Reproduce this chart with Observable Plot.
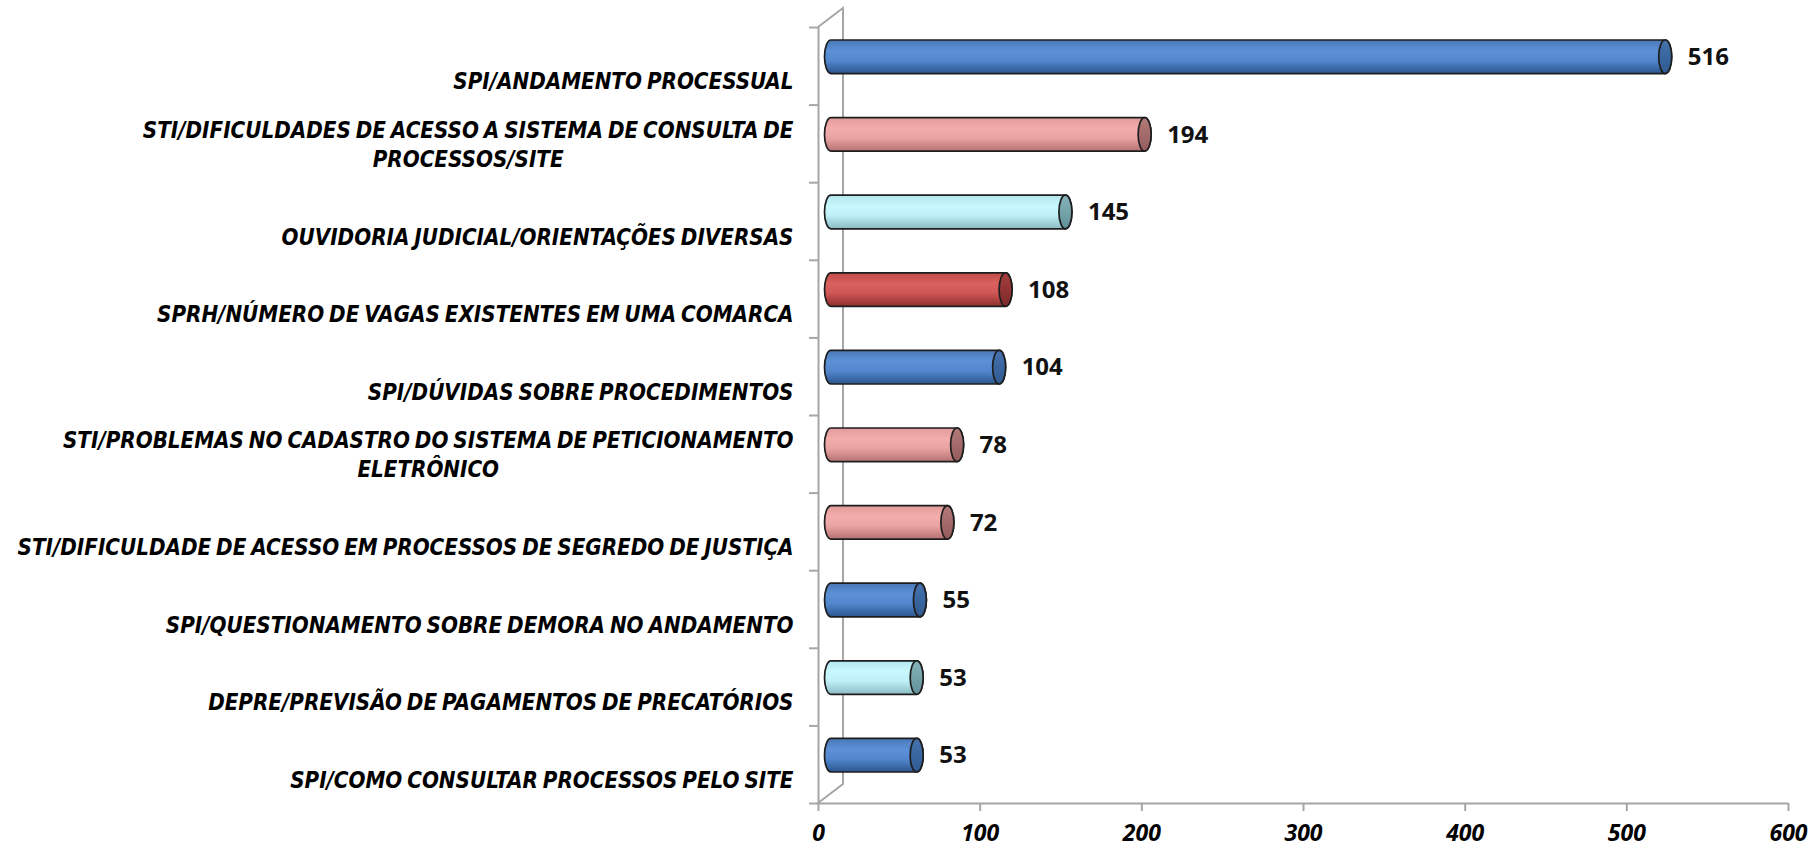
<!DOCTYPE html>
<html><head><meta charset="utf-8">
<script src="https://cdn.jsdelivr.net/npm/d3@7"></script>
<script src="https://cdn.jsdelivr.net/npm/@observablehq/plot@0.6"></script>
<style>body{margin:0;background:#fff}</style>
</head><body><div id="chart"></div>
<script>
// ---- data ----
const categories = [
  "SPI/ANDAMENTO PROCESSUAL",
  "STI/DIFICULDADES DE ACESSO A SISTEMA DE CONSULTA DE\nPROCESSOS/SITE",
  "OUVIDORIA JUDICIAL/ORIENTAÇÕES DIVERSAS",
  "SPRH/NÚMERO DE VAGAS EXISTENTES EM UMA COMARCA",
  "SPI/DÚVIDAS SOBRE PROCEDIMENTOS",
  "STI/PROBLEMAS NO CADASTRO DO SISTEMA DE PETICIONAMENTO\nELETRÔNICO",
  "STI/DIFICULDADE DE ACESSO EM PROCESSOS DE SEGREDO DE JUSTIÇA",
  "SPI/QUESTIONAMENTO SOBRE DEMORA NO ANDAMENTO",
  "DEPRE/PREVISÃO DE PAGAMENTOS DE PRECATÓRIOS",
  "SPI/COMO CONSULTAR PROCESSOS PELO SITE"
];
const values = [516, 194, 145, 108, 104, 78, 72, 55, 53, 53];
const groups = ["blue", "pink", "cyan", "red", "blue", "pink", "pink", "blue", "cyan", "blue"];
const xTicks = [0, 100, 200, 300, 400, 500, 600];

const data = categories.map((c, i) => ({cat: c, value: values[i], group: groups[i], i}));

// ---- styles ----
const GRAY = "#a6a6a6";
const DX = 25, DY = -19;          // 3D depth of the back wall
const BAR_DX = 13, BAR_DY = -9;   // bars sit half-way in depth
const LABEL_FONT = "'DejaVu Sans Condensed', 'DejaVu Sans', sans-serif";
const NUM_FONT = "'Open Sans', 'Liberation Sans', sans-serif";
const palette = {
  blue: {body: ["#4a78b8", "#5c91d7", "#5388cf", "#2c568e"], cap: ["#4572ad", "#2f5a92"]},
  pink: {body: ["#e29a9a", "#f4adad", "#eaa3a3", "#b57272"], cap: ["#b37a7a", "#945c5c"]},
  cyan: {body: ["#b2e7ee", "#c9f8fe", "#bff0f7", "#8bbcc3"], cap: ["#86b4ba", "#62929a"]},
  red:  {body: ["#c04a48", "#d9615f", "#cf5755", "#8d2f2e"], cap: ["#a53e3d", "#7e2a2a"]}
};

const ns = "http://www.w3.org/2000/svg";
function cylinders(index, scales, vals, dimensions, context, next) {
  const g = next(index, scales, vals, dimensions, context);
  const defs = document.createElementNS(ns, "defs");
  for (const [k, p] of Object.entries(palette)) {
    const lg = document.createElementNS(ns, "linearGradient");
    lg.setAttribute("id", "body-" + k);
    lg.setAttribute("x1", 0); lg.setAttribute("y1", 0); lg.setAttribute("x2", 0); lg.setAttribute("y2", 1);
    [0, 0.32, 0.6, 1].forEach((o, j) => {
      const s = document.createElementNS(ns, "stop");
      s.setAttribute("offset", o); s.setAttribute("stop-color", p.body[j]);
      lg.appendChild(s);
    });
    defs.appendChild(lg);
    const cg = document.createElementNS(ns, "linearGradient");
    cg.setAttribute("id", "cap-" + k);
    cg.setAttribute("x1", 0); cg.setAttribute("y1", 0); cg.setAttribute("x2", 0); cg.setAttribute("y2", 1);
    [0, 1].forEach((o, j) => {
      const s = document.createElementNS(ns, "stop");
      s.setAttribute("offset", o); s.setAttribute("stop-color", p.cap[j]);
      cg.appendChild(s);
    });
    defs.appendChild(cg);
  }
  g.insertBefore(defs, g.firstChild);
  const rects = Array.from(g.querySelectorAll("rect"));
  rects.forEach((r, j) => {
    const d = data[index[j]];
    const x = +r.getAttribute("x"), y = +r.getAttribute("y");
    const w = +r.getAttribute("width"), h = +r.getAttribute("height");
    const ry = h / 2, rx = 6.5, xe = x + w, yb = y + h;
    const body = document.createElementNS(ns, "path");
    body.setAttribute("d", `M${x},${y}L${xe},${y}A${rx},${ry} 0 0 1 ${xe},${yb}L${x},${yb}A${rx},${ry} 0 0 1 ${x},${y}Z`);
    body.setAttribute("fill", `url(#body-${d.group})`);
    body.setAttribute("stroke", "#1e1e1e");
    body.setAttribute("stroke-width", 1.7);
    const cap = document.createElementNS(ns, "ellipse");
    cap.setAttribute("cx", xe); cap.setAttribute("cy", y + ry);
    cap.setAttribute("rx", rx); cap.setAttribute("ry", ry);
    cap.setAttribute("fill", `url(#cap-${d.group})`);
    cap.setAttribute("stroke", "#1e1e1e");
    cap.setAttribute("stroke-width", 1.7);
    r.replaceWith(body);
    body.after(cap);
  });
  return g;
}

function backWall(index, scales) {
  const x0 = scales.x(0), yT = scales.y(0), yB = scales.y(10);
  const g = d3.create("svg:g").attr("fill", "none").attr("stroke", GRAY).attr("stroke-width", 2);
  g.append("path").attr("d", `M${x0},${yT}L${x0 + DX},${yT + DY}L${x0 + DX},${yB + DY}L${x0},${yB}`);
  return g.node();
}

function tightWords(index, scales, vals, dimensions, context, next) {
  const g = next(index, scales, vals, dimensions, context);
  g.setAttribute("word-spacing", "-2");
  return g;
}

const chart = Plot.plot({
  width: 1820,
  height: 853,
  marginLeft: 818,
  marginRight: 32,
  marginTop: 27,
  marginBottom: 50,
  x: {domain: [0, 600], label: null},
  y: {domain: [0, 10], range: [27, 803], label: null},
  marks: [
    backWall,
    Plot.ruleX([0], {stroke: GRAY, strokeWidth: 2}),
    Plot.ruleY([10], {stroke: GRAY, strokeWidth: 2}),
    Plot.axisY({ticks: d3.range(0, 11), tickSize: 9, tickFormat: () => "", label: null, stroke: GRAY, strokeWidth: 2}),
    Plot.axisX({
      ticks: xTicks, tickSize: 8, tickPadding: 13, label: null, stroke: GRAY, strokeWidth: 2,
      fill: "#000", fontSize: 23, fontWeight: "bold", fontStyle: "italic", fontFamily: NUM_FONT
    }),
    Plot.rect(data, {
      x1: () => 0, x2: "value", y1: "i", y2: d => d.i + 1,
      insetTop: 22, insetBottom: 22, dx: BAR_DX, dy: BAR_DY,
      render: cylinders
    }),
    Plot.text(data, {
      x: "value", y: d => d.i + 0.5, text: d => String(d.value),
      textAnchor: "start", dx: 35, dy: BAR_DY,
      fontSize: 24, fontWeight: "bold", fontFamily: NUM_FONT, fill: "#111"
    }),
    Plot.text(data, {
      x: () => 0, y: d => d.i + 0.5, text: "cat",
      textAnchor: "end", lineAnchor: "bottom", lineHeight: 1.3,
      dx: -25, dy: 23,
      fontSize: 22.2, fontWeight: "bold", fontStyle: "italic", fontFamily: LABEL_FONT,
      fill: "#000", render: tightWords
    })
  ]
});
document.getElementById("chart").appendChild(chart);

// centre the second line of two-line labels under the first line
chart.querySelectorAll("text").forEach(t => {
  const sp = t.querySelectorAll("tspan");
  if (sp.length === 2) {
    const w1 = sp[0].getComputedTextLength();
    sp[1].setAttribute("x", -w1 / 2);
    sp[1].setAttribute("text-anchor", "middle");
  }
});
</script>
</body></html>
